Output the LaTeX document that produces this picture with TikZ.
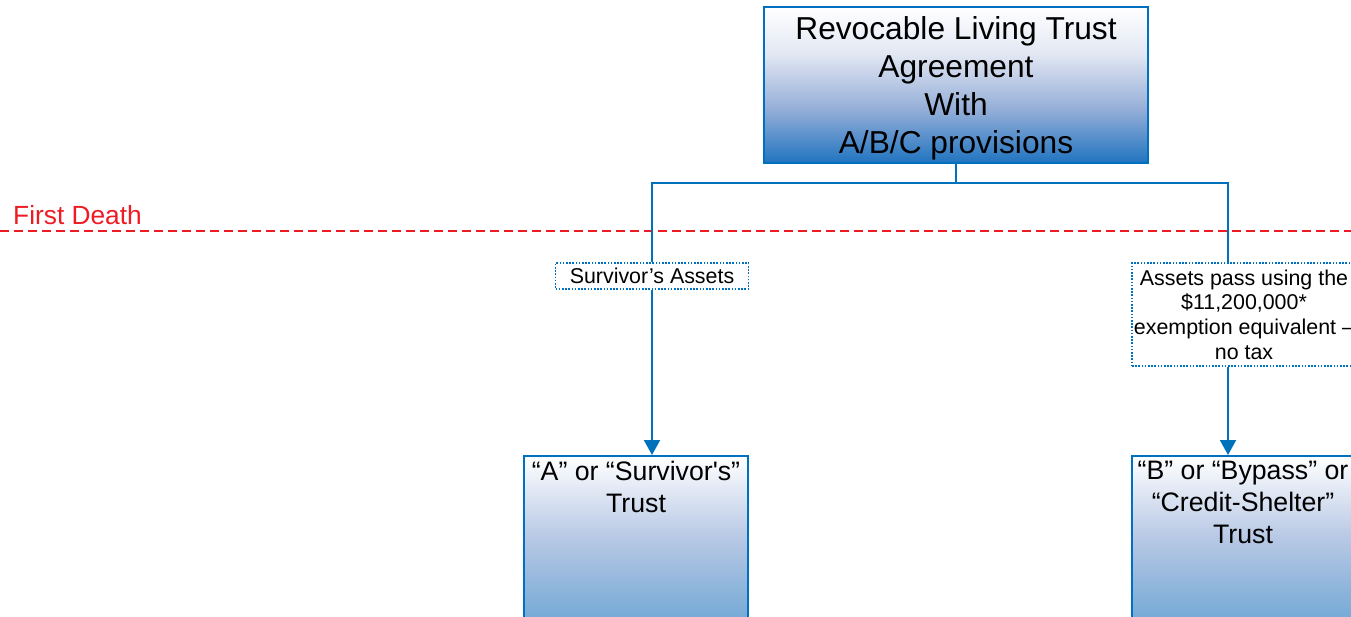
\documentclass[tikz,border=0pt]{standalone}
\usepackage{fontspec}
\setmainfont{Liberation Sans}
\usetikzlibrary{arrows.meta,calc}
\definecolor{boxblue}{RGB}{0,112,192}
\definecolor{linkblue}{RGB}{0,114,188}
\definecolor{deepblue}{RGB}{32,116,192}
\definecolor{midblue}{RGB}{150,175,216}
\definecolor{lavender}{RGB}{226,231,243}
\definecolor{paleblue}{RGB}{118,170,214}
\definecolor{softblue}{RGB}{185,201,229}
\definecolor{lowblue}{RGB}{100,156,206}
\definecolor{deathred}{RGB}{237,28,36}
% vertical fades, listed from bottom to top; a node's box spans 25bp to 75bp
\pgfdeclareverticalshading{agreementfade}{100bp}{color(0bp)=(deepblue); color(25bp)=(deepblue); color(42.5bp)=(midblue); color(60bp)=(lavender); color(75bp)=(white); color(100bp)=(white)}
\pgfdeclareverticalshading{trustfade}{100bp}{color(0bp)=(lowblue); color(25bp)=(lowblue); color(34.5bp)=(paleblue); color(55bp)=(softblue); color(75bp)=(white); color(100bp)=(white)}
\tikzset{
  mainbox/.style={draw=boxblue, line width=2pt, rectangle, inner sep=0pt,
    shading=agreementfade},
  trustbox/.style={draw=boxblue, line width=2pt, rectangle, inner sep=0pt,
    shading=trustfade},
  flowlabel/.style={draw=boxblue, line width=1.5pt, dash pattern=on 1.6pt off 1.6pt,
    fill=white, rectangle, inner sep=0pt, align=center,
    font=\fontsize{21.4}{24.6}\selectfont},
  conn/.style={draw=linkblue, line width=2pt},
  arrowconn/.style={conn, -{Triangle[width=16pt,length=15pt]}},
  bigtext/.style={align=center, inner sep=0pt, font=\fontsize{31.7}{38}\selectfont},
  trusttext/.style={align=center, inner sep=0pt, anchor=north,
    font=\fontsize{26.7}{32}\selectfont}
}
\begin{document}
\begin{tikzpicture}[x=1pt,y=-1pt]
  \path[use as bounding box] (0,0) rectangle (1351,617);
  \clip (0,0) rectangle (1351,617);

  % first-death divider
  \draw[deathred, line width=1.5pt, dash pattern=on 9pt off 5pt] (0,231) -- (1351,231);
  \node[anchor=base west, inner sep=0pt, text=deathred,
    font=\fontsize{26.3}{30}\selectfont] (death) at (13,224.5) {First Death};

  % trust agreement
  \node[mainbox, minimum width=384pt, minimum height=156pt] (top) at (956,85) {};
  \node[bigtext] (toptext) at (956,88)
    {Revocable Living Trust\\Agreement\\With\\A/B/C provisions};

  % resulting trusts
  \node[trustbox, minimum width=224pt, minimum height=200pt, anchor=north] (boxA) at (636,455) {};
  \node[trusttext] (textA) at ($(boxA.north)+(0,6)$) {“A” or “Survivor\textquotesingle s”\\Trust};
  \node[trustbox, minimum width=224pt, minimum height=200pt, anchor=north] (boxB) at (1244,455) {};
  \node[trusttext] (textB) at ($(boxB.north)+(-1,6)$) {“B” or “Bypass” or\\“Credit-Shelter”\\Trust};

  % asset labels
  \node[flowlabel, minimum width=193pt, minimum height=26pt] (lblA) at (652,276) {Survivor’s Assets};
  \node[flowlabel, minimum width=224pt, minimum height=103pt] (lblB) at (1244,314.5)
    {Assets pass using the\\\$11,200,000*\\exemption equivalent –\\no tax};

  % connectors
  \coordinate (bus) at (956,183);
  \coordinate (xB) at (1228,0);
  \draw[conn] (top.south) -- (bus);
  \draw[conn] (bus) -| (lblA.north);
  \draw[conn] (bus) -| (lblB.north -| xB);
  \draw[arrowconn] (lblA.south) -- (lblA.south |- boxA.north);
  \draw[arrowconn] (lblB.south -| xB) -- (xB |- boxB.north);
\end{tikzpicture}
\end{document}
